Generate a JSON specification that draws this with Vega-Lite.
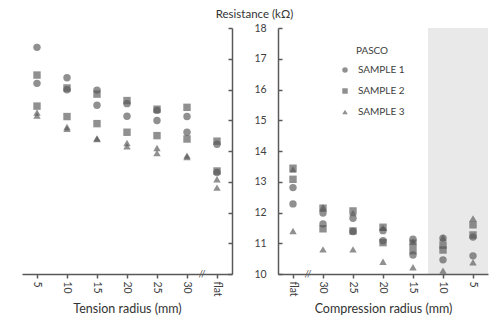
{
  "$schema": "https://vega.github.io/schema/vega-lite/v6.json",
  "padding": {"left": 22, "top": 8, "right": 3, "bottom": 0},
  "spacing": 46,
  "bounds": "flush",
  "config": {
    "font": "Lato",
    "view": {"stroke": null},
    "axis": {
      "domainColor": "#595959",
      "domainWidth": 1.5,
      "tickColor": "#595959",
      "tickWidth": 1.5,
      "labelColor": "#404040",
      "titleColor": "#333333",
      "labelFont": "Lato",
      "titleFont": "Lato",
      "titleFontWeight": "normal",
      "grid": false
    }
  },
  "datasets": {
    "tension": [
      {"radius": "5", "sample": "SAMPLE 1", "value": 17.37},
      {"radius": "5", "sample": "SAMPLE 1", "value": 16.20},
      {"radius": "5", "sample": "SAMPLE 2", "value": 16.47},
      {"radius": "5", "sample": "SAMPLE 2", "value": 15.46},
      {"radius": "5", "sample": "SAMPLE 3", "value": 15.25},
      {"radius": "5", "sample": "SAMPLE 3", "value": 15.15},
      {"radius": "10", "sample": "SAMPLE 1", "value": 16.38},
      {"radius": "10", "sample": "SAMPLE 1", "value": 15.99},
      {"radius": "10", "sample": "SAMPLE 2", "value": 16.05},
      {"radius": "10", "sample": "SAMPLE 2", "value": 15.12},
      {"radius": "10", "sample": "SAMPLE 3", "value": 14.78},
      {"radius": "10", "sample": "SAMPLE 3", "value": 14.72},
      {"radius": "15", "sample": "SAMPLE 1", "value": 15.98},
      {"radius": "15", "sample": "SAMPLE 1", "value": 15.49},
      {"radius": "15", "sample": "SAMPLE 2", "value": 15.85},
      {"radius": "15", "sample": "SAMPLE 2", "value": 14.89},
      {"radius": "15", "sample": "SAMPLE 3", "value": 14.41},
      {"radius": "15", "sample": "SAMPLE 3", "value": 14.39},
      {"radius": "20", "sample": "SAMPLE 1", "value": 15.54},
      {"radius": "20", "sample": "SAMPLE 1", "value": 15.13},
      {"radius": "20", "sample": "SAMPLE 2", "value": 15.64},
      {"radius": "20", "sample": "SAMPLE 2", "value": 14.61},
      {"radius": "20", "sample": "SAMPLE 3", "value": 14.26},
      {"radius": "20", "sample": "SAMPLE 3", "value": 14.15},
      {"radius": "25", "sample": "SAMPLE 1", "value": 15.32},
      {"radius": "25", "sample": "SAMPLE 1", "value": 14.99},
      {"radius": "25", "sample": "SAMPLE 2", "value": 15.36},
      {"radius": "25", "sample": "SAMPLE 2", "value": 14.50},
      {"radius": "25", "sample": "SAMPLE 3", "value": 14.10},
      {"radius": "25", "sample": "SAMPLE 3", "value": 13.93},
      {"radius": "30", "sample": "SAMPLE 1", "value": 15.12},
      {"radius": "30", "sample": "SAMPLE 1", "value": 14.61},
      {"radius": "30", "sample": "SAMPLE 2", "value": 15.42},
      {"radius": "30", "sample": "SAMPLE 2", "value": 14.39},
      {"radius": "30", "sample": "SAMPLE 3", "value": 13.85},
      {"radius": "30", "sample": "SAMPLE 3", "value": 13.80},
      {"radius": "flat", "sample": "SAMPLE 1", "value": 14.22},
      {"radius": "flat", "sample": "SAMPLE 1", "value": 13.30},
      {"radius": "flat", "sample": "SAMPLE 2", "value": 14.32},
      {"radius": "flat", "sample": "SAMPLE 2", "value": 13.35},
      {"radius": "flat", "sample": "SAMPLE 3", "value": 13.08},
      {"radius": "flat", "sample": "SAMPLE 3", "value": 12.81}
    ],
    "compression": [
      {"radius": "flat", "sample": "SAMPLE 1", "value": 12.81},
      {"radius": "flat", "sample": "SAMPLE 1", "value": 12.28},
      {"radius": "flat", "sample": "SAMPLE 2", "value": 13.44},
      {"radius": "flat", "sample": "SAMPLE 2", "value": 13.08},
      {"radius": "flat", "sample": "SAMPLE 3", "value": 13.40},
      {"radius": "flat", "sample": "SAMPLE 3", "value": 11.40},
      {"radius": "30", "sample": "SAMPLE 1", "value": 11.98},
      {"radius": "30", "sample": "SAMPLE 1", "value": 11.63},
      {"radius": "30", "sample": "SAMPLE 2", "value": 12.14},
      {"radius": "30", "sample": "SAMPLE 2", "value": 11.47},
      {"radius": "30", "sample": "SAMPLE 3", "value": 12.17},
      {"radius": "30", "sample": "SAMPLE 3", "value": 10.80},
      {"radius": "25", "sample": "SAMPLE 1", "value": 11.81},
      {"radius": "25", "sample": "SAMPLE 1", "value": 11.38},
      {"radius": "25", "sample": "SAMPLE 2", "value": 12.05},
      {"radius": "25", "sample": "SAMPLE 2", "value": 11.40},
      {"radius": "25", "sample": "SAMPLE 3", "value": 11.98},
      {"radius": "25", "sample": "SAMPLE 3", "value": 10.80},
      {"radius": "20", "sample": "SAMPLE 1", "value": 11.41},
      {"radius": "20", "sample": "SAMPLE 1", "value": 11.08},
      {"radius": "20", "sample": "SAMPLE 2", "value": 11.52},
      {"radius": "20", "sample": "SAMPLE 2", "value": 11.02},
      {"radius": "20", "sample": "SAMPLE 3", "value": 11.50},
      {"radius": "20", "sample": "SAMPLE 3", "value": 10.40},
      {"radius": "15", "sample": "SAMPLE 1", "value": 11.13},
      {"radius": "15", "sample": "SAMPLE 1", "value": 10.62},
      {"radius": "15", "sample": "SAMPLE 2", "value": 11.00},
      {"radius": "15", "sample": "SAMPLE 2", "value": 10.76},
      {"radius": "15", "sample": "SAMPLE 3", "value": 11.05},
      {"radius": "15", "sample": "SAMPLE 3", "value": 10.22},
      {"radius": "10", "sample": "SAMPLE 1", "value": 11.16},
      {"radius": "10", "sample": "SAMPLE 1", "value": 10.46},
      {"radius": "10", "sample": "SAMPLE 2", "value": 10.94},
      {"radius": "10", "sample": "SAMPLE 2", "value": 10.78},
      {"radius": "10", "sample": "SAMPLE 3", "value": 11.18},
      {"radius": "10", "sample": "SAMPLE 3", "value": 10.11},
      {"radius": "5", "sample": "SAMPLE 1", "value": 11.20},
      {"radius": "5", "sample": "SAMPLE 1", "value": 10.59},
      {"radius": "5", "sample": "SAMPLE 2", "value": 11.60},
      {"radius": "5", "sample": "SAMPLE 2", "value": 11.27},
      {"radius": "5", "sample": "SAMPLE 3", "value": 11.81},
      {"radius": "5", "sample": "SAMPLE 3", "value": 10.38}
    ],
    "shade": [{"radius": "10"}, {"radius": "5"}],
    "breakLeft": [{"radius": "30"}],
    "breakRight": [{"radius": "flat"}]
  },
  "hconcat": [
    {
      "width": 210,
      "height": 246,
      "layer": [
        {
          "data": {"name": "tension"},
          "mark": {"type": "point", "filled": true, "color": "#575757", "opacity": 0.66, "size": 55},
          "encoding": {
            "x": {
              "field": "radius", "type": "nominal",
              "scale": {"type": "band", "domain": ["5", "10", "15", "20", "25", "30", "flat"], "paddingInner": 0, "paddingOuter": 0},
              "axis": {"title": "Tension radius (mm)", "titleFontSize": 12.5, "labelAngle": 90, "labelAlign": "left", "labelBaseline": "middle", "labelFontSize": 10.5, "bandPosition": 0.5, "tickSize": 4, "labelPadding": 3, "titlePadding": 6}
            },
            "y": {
              "field": "value", "type": "quantitative",
              "scale": {"domain": [10, 18], "zero": false, "nice": false},
              "axis": {"orient": "right", "labels": false, "title": null, "tickCount": 20, "labelOverlap": false, "values": [10, 11, 12, 13, 14, 15, 16, 17, 18], "tickSize": -4}
            },
            "shape": {
              "field": "sample", "type": "nominal",
              "scale": {"domain": ["SAMPLE 1", "SAMPLE 2", "SAMPLE 3"], "range": ["circle", "square", "triangle-up"]},
              "legend": {
                "orient": "none", "legendX": 318, "legendY": 18,
                "title": "PASCO", "titleAnchor": "middle", "titleAlign": "center",
                "titleFontSize": 10, "titleFontWeight": "normal", "titleColor": "#404040", "titlePadding": 9,
                "labelFontSize": 10, "labelColor": "#404040", "labelOffset": 8,
                "symbolSize": 30, "symbolFillColor": "#505050", "symbolStrokeColor": "#505050", "symbolStrokeWidth": 0,
                "rowPadding": 11
              }
            }
          }
        },
        {
          "data": {"name": "breakLeft"},
          "mark": {"type": "text", "text": "//", "fontSize": 10, "color": "#595959", "baseline": "middle", "align": "center"},
          "encoding": {
            "x": {"field": "radius", "type": "nominal", "bandPosition": 1},
            "y": {"datum": 10, "type": "quantitative"}
          }
        }
      ]
    },
    {
      "width": 210,
      "height": 246,
      "layer": [
        {
          "data": {"name": "shade"},
          "mark": {"type": "rect", "color": "#e9e9e9"},
          "encoding": {
            "x": {
              "field": "radius", "type": "nominal",
              "scale": {"type": "band", "domain": ["flat", "30", "25", "20", "15", "10", "5"], "paddingInner": 0, "paddingOuter": 0},
              "axis": {"title": "Compression radius (mm)", "titleFontSize": 12.5, "labelAngle": 90, "labelAlign": "left", "labelBaseline": "middle", "labelFontSize": 10.5, "bandPosition": 0.5, "tickSize": 4, "labelPadding": 3, "titlePadding": 6}
            },
            "y": {"datum": 10, "type": "quantitative", "scale": {"domain": [10, 18], "zero": false, "nice": false},
              "axis": {"orient": "left", "title": "Resistance (k\u03a9)", "titleAngle": 0, "titleAlign": "center", "titleBaseline": "middle", "titleX": -24, "titleY": -14, "titleFontSize": 11.5, "tickCount": 20, "format": "d", "values": [10, 11, 12, 13, 14, 15, 16, 17, 18], "labelOverlap": false, "tickSize": -4, "labelPadding": 22, "labelAlign": "center", "labelFontSize": 10.5}},
            "y2": {"datum": 18}
          }
        },
        {
          "data": {"name": "compression"},
          "mark": {"type": "point", "filled": true, "color": "#575757", "opacity": 0.66, "size": 55},
          "encoding": {
            "x": {"field": "radius", "type": "nominal"},
            "y": {"field": "value", "type": "quantitative"},
            "shape": {"field": "sample", "type": "nominal"}
          }
        },
        {
          "data": {"name": "breakRight"},
          "mark": {"type": "text", "text": "//", "fontSize": 10, "color": "#595959", "baseline": "middle", "align": "center"},
          "encoding": {
            "x": {"field": "radius", "type": "nominal", "bandPosition": 1},
            "y": {"datum": 10, "type": "quantitative"}
          }
        }
      ]
    }
  ]
}
